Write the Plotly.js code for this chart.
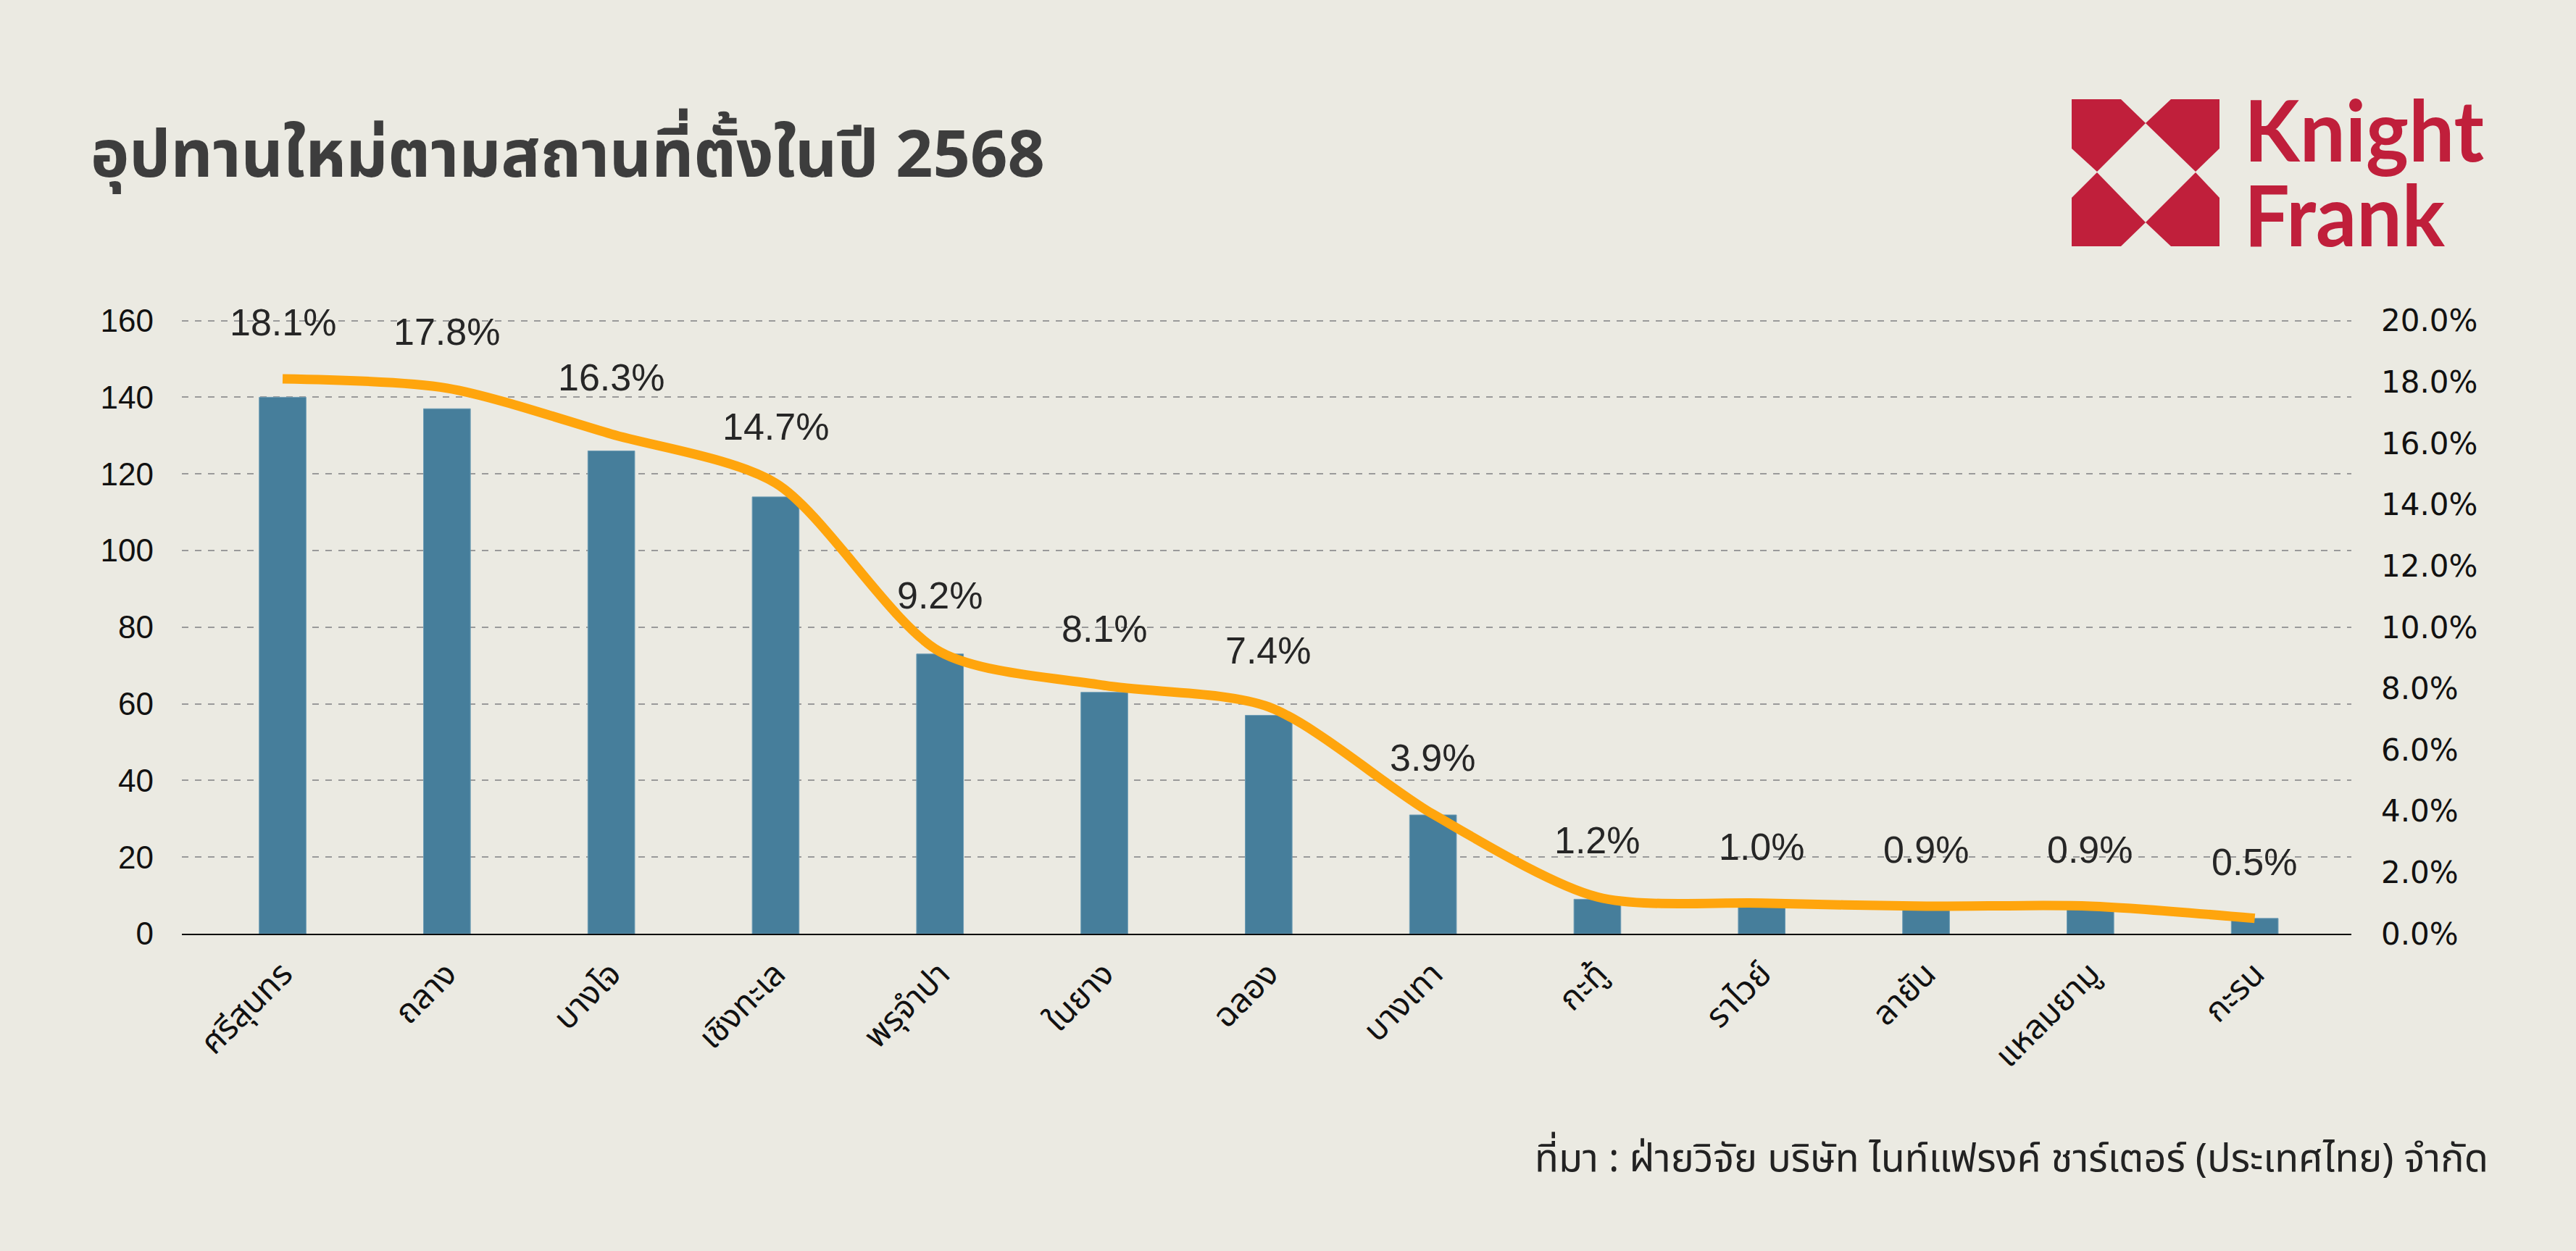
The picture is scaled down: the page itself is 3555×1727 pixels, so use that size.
<!DOCTYPE html>
<html>
<head>
<meta charset="utf-8">
<script src="https://cdn.plot.ly/plotly-3.0.1.min.js"></script>
<style>
  html, body { margin: 0; padding: 0; background: #EBEAE2; }
  #wrap { position: relative; width: 3555px; height: 1727px; }
  #chart { position: absolute; left: 0; top: 0; width: 3555px; height: 1727px; }
  #logo { position: absolute; left: 0; top: 0; width: 3555px; height: 1727px; pointer-events: none; }
</style>
</head>
<body>
<div id="wrap">
  <div id="chart"></div>
  <svg id="logo" viewBox="0 0 3555 1727" xmlns="http://www.w3.org/2000/svg">
    <g fill="#C01F3B">
      <polygon points="2859,137 2927,137 2961,170 2894,237 2859,205"/>
      <polygon points="2996,137 3063,137 3063,205 3030,237 2961,170"/>
      <polygon points="2859,273 2894,238 2961,307 2927,340 2859,340"/>
      <polygon points="3030,238 3063,273 3063,340 2996,340 2961,307"/>
      <text x="3097" y="223" font-family="Lato, 'Open Sans', sans-serif" font-weight="700" font-size="116" textLength="331" lengthAdjust="spacingAndGlyphs">Knight</text>
      <text x="3097" y="340" font-family="Lato, 'Open Sans', sans-serif" font-weight="700" font-size="116" textLength="277" lengthAdjust="spacingAndGlyphs">Frank</text>
    </g>
  </svg>
</div>
<script>
// ---- data ----
const categories = ["ศรีสุนทร", "ถลาง", "บางโจ", "เชิงทะเล", "พรุจำปา", "ในยาง", "ฉลอง", "บางเทา", "กะทู้", "ราไวย์", "ลายัน", "แหลมยามู", "กะรน"];
const units = [140, 137, 126, 114, 73, 63, 57, 31, 9, 8, 7, 7, 4];
const shares = [18.1, 17.8, 16.3, 14.7, 9.2, 8.1, 7.4, 3.9, 1.2, 1.0, 0.9, 0.9, 0.5];
const leftTicks = [0, 20, 40, 60, 80, 100, 120, 140, 160];
const rightTicks = [0, 2, 4, 6, 8, 10, 12, 14, 16, 18, 20];
const rightTickText = rightTicks.map(v => v.toFixed(1) + '%');
const titleText = "อุปทานใหม่ตามสถานที่ตั้งในปี 2568";
const sourceText = "ที่มา : ฝ่ายวิจัย บริษัท ไนท์แฟรงค์ ชาร์เตอร์ (ประเทศไทย) จำกัด";

const thaiFont = "'Noto Sans Thai', 'Noto Sans', 'Liberation Sans', sans-serif";
const numFont = "'Liberation Sans', Arial, sans-serif";

const bars = {
  type: 'bar',
  x: categories,
  y: units,
  yaxis: 'y',
  width: 0.285,
  marker: { color: '#467E9B', line: { color: '#6E9DB5', width: 1 } },
  hoverinfo: 'skip'
};

const line = {
  type: 'scatter',
  mode: 'lines',
  x: categories,
  y: shares,
  yaxis: 'y2',
  line: { color: '#FFA50D', width: 13, shape: 'spline', smoothing: 0.8 },
  hoverinfo: 'skip'
};

const pctLabels = categories.map((c, i) => ({
  x: c, y: shares[i], xref: 'x', yref: 'y2',
  text: shares[i].toFixed(1) + '%',
  showarrow: false, yshift: 78,
  font: { family: numFont, size: 52, color: '#262626' }
}));

const layout = {
  width: 3555, height: 1727,
  paper_bgcolor: '#EBEAE2', plot_bgcolor: '#EBEAE2',
  margin: { l: 251, r: 310, t: 441, b: 438, pad: 0 },
  showlegend: false,
  title: {
    text: titleText,
    font: { family: thaiFont, size: 90, color: '#3D3D3D', weight: 700 },
    xref: 'container', yref: 'container',
    x: 125 / 3555, xanchor: 'left',
    y: 1 - 212 / 1727, yanchor: 'middle'
  },
  xaxis: {
    type: 'category',
    range: [-0.613, 12.588],
    showline: true, linecolor: '#000000', linewidth: 2,
    ticks: '', tickangle: -45,
    tickfont: { family: thaiFont, size: 46, color: '#111111' },
    ticklabelstandoff: 8,
    showgrid: false, zeroline: false, fixedrange: true
  },
  yaxis: {
    range: [0, 160.3],
    tickvals: leftTicks,
    tickfont: { family: numFont, size: 44, color: '#111111' },
    showgrid: true, gridcolor: '#9A9A9A', gridwidth: 2, griddash: 'dash',
    zeroline: false, showline: false, ticks: '',
    ticklabelstandoff: 38
  },
  yaxis2: {
    overlaying: 'y', side: 'right',
    range: [0, 20.04],
    tickvals: rightTicks,
    ticktext: rightTickText,
    tickfont: { family: "'DejaVu Sans', sans-serif", size: 42, color: '#111111' },
    showgrid: false, zeroline: false, showline: false, ticks: '',
    ticklabelstandoff: 40
  },
  annotations: pctLabels.concat([{
    xref: 'paper', yref: 'paper',
    x: (3436 - 251) / 2994, xanchor: 'right',
    y: (1289 - 1600) / 848, yanchor: 'middle',
    text: sourceText, showarrow: false,
    font: { family: thaiFont, size: 54, color: '#222222' }
  }])
};

Plotly.newPlot('chart', [bars, line], layout, { staticPlot: true, displayModeBar: false });
</script>
</body>
</html>
